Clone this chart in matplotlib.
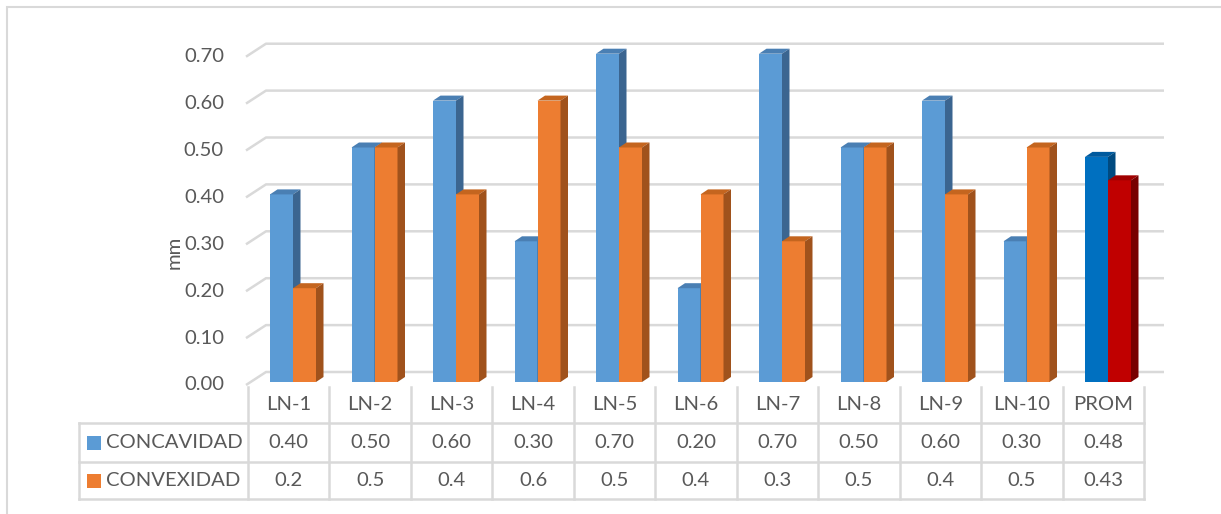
import matplotlib.pyplot as plt
from matplotlib.patches import Polygon, Rectangle

categories = ["LN-1", "LN-2", "LN-3", "LN-4", "LN-5", "LN-6", "LN-7",
              "LN-8", "LN-9", "LN-10", "PROM"]
concavidad = [0.40, 0.50, 0.60, 0.30, 0.70, 0.20, 0.70, 0.50, 0.60, 0.30, 0.48]
convexidad = [0.2, 0.5, 0.4, 0.6, 0.5, 0.4, 0.3, 0.5, 0.4, 0.5, 0.43]
series_names = ["CONCAVIDAD", "CONVEXIDAD"]
y_ticks = [0.0, 0.1, 0.2, 0.3, 0.4, 0.5, 0.6, 0.7]
y_label = "mm"

# front / top / side shades; last category uses its own colours
blue = ["#5b9bd5", "#4a7fb3", "#3b6590"]
orange = ["#ed7d31", "#c4651f", "#a0521c"]
prom_blue = ["#0070c0", "#005a9e", "#004a80"]
prom_red = ["#c00000", "#a00000", "#780000"]

TEXT = "#595959"
GRID = "#d9d9d9"
FS = 14.6
plt.rcParams["font.family"] = ["Lato", "DejaVu Sans"]

W, H = 1221, 514
fig = plt.figure(figsize=(W / 100, H / 100), dpi=100)

# pixel anchors of the plot: first category centre, spacing, zero line, scale
X0, STEP, Y0, SCALE = 293.0, 81.5, 382.0, 469.0


def px_x(x):
    return (x - X0) / STEP


def px_y(y):
    return (Y0 - y) / SCALE


ax = fig.add_axes([0, 0, 1, 1])
ax.set_xlim(px_x(0), px_x(W))
ax.set_ylim(px_y(H), px_y(0))
ax.axis("off")

# back wall + side wall gridlines
wall_x0, wall_x1, front_x = px_x(266), px_x(1164), px_x(246)
back_dy, front_dy = 10 / SCALE, -3 / SCALE
for v in y_ticks:
    ax.plot([front_x, wall_x0, wall_x1], [v + front_dy, v + back_dy, v + back_dy],
            color=GRID, lw=1.8, zorder=0, solid_capstyle="butt")
    ax.text(px_x(224), v + front_dy, f"{v:.2f}", ha="right", va="center",
            fontsize=FS, color=TEXT)

ax.text(px_x(174), px_y(252), y_label, rotation=90, ha="center", va="center",
        fontsize=FS, color=TEXT)

# pseudo-3D columns
bw = 23 / STEP
ddx, ddy = 7.5 / STEP, 5 / SCALE


def bar3d(x, h, shades, z):
    ax.bar(x, h, width=bw, align="edge", color=shades[0], zorder=z, lw=0)
    top = [(x, h), (x + bw, h), (x + bw + ddx, h + ddy), (x + ddx, h + ddy)]
    side = [(x + bw, 0), (x + bw, h), (x + bw + ddx, h + ddy), (x + bw + ddx, ddy)]
    ax.add_patch(Polygon(top, closed=True, color=shades[1], lw=0, zorder=z))
    ax.add_patch(Polygon(side, closed=True, color=shades[2], lw=0, zorder=z))


for i, (a, b) in enumerate(zip(concavidad, convexidad)):
    last = i == len(categories) - 1
    bar3d(i - bw, a, prom_blue if last else blue, 2)
    bar3d(i, b, prom_red if last else orange, 3)

# data table below the plot
col_left = px_x(248)
col_w = (px_x(1144) - col_left) / len(categories)
row_top, row1, row2, row3 = px_y(387), px_y(423), px_y(462), px_y(499)
key_left = px_x(79)
lw_t = 1.8
for k in range(len(categories) + 1):
    xk = col_left + k * col_w
    ax.plot([xk, xk], [row_top, row3], color=GRID, lw=lw_t, zorder=1)
ax.plot([key_left, key_left], [row1, row3], color=GRID, lw=lw_t, zorder=1)
for yr in (row1, row2, row3):
    ax.plot([key_left, col_left + len(categories) * col_w], [yr, yr],
            color=GRID, lw=lw_t, zorder=1)

for i, cat in enumerate(categories):
    xc = col_left + (i + 0.5) * col_w
    ax.text(xc, (row_top + row1) / 2, cat, ha="center", va="center",
            fontsize=FS, color=TEXT)
    ax.text(xc, (row1 + row2) / 2, f"{concavidad[i]:.2f}", ha="center",
            va="center", fontsize=FS, color=TEXT)
    ax.text(xc, (row2 + row3) / 2, f"{convexidad[i]:g}", ha="center",
            va="center", fontsize=FS, color=TEXT)

# legend keys in the table's first column
key_w = 14 / STEP
key_h = 14 / SCALE
for name, shade, (r_hi, r_lo) in zip(series_names, [blue[0], orange[0]],
                                     [(row1, row2), (row2, row3)]):
    yc = (r_hi + r_lo) / 2
    ax.add_patch(Rectangle((px_x(87), yc - key_h / 2), key_w, key_h,
                           color=shade, lw=0, zorder=2))
    ax.text(px_x(106), yc, name, ha="left", va="center", fontsize=FS, color=TEXT)

# chart area border
fig.patches.append(Rectangle((7 / W, -0.1), 1.2, 1 - 7 / H + 0.1,
                             transform=fig.transFigure, fill=False,
                             edgecolor=GRID, lw=1.5))

fig.savefig("out.png", dpi=100)
